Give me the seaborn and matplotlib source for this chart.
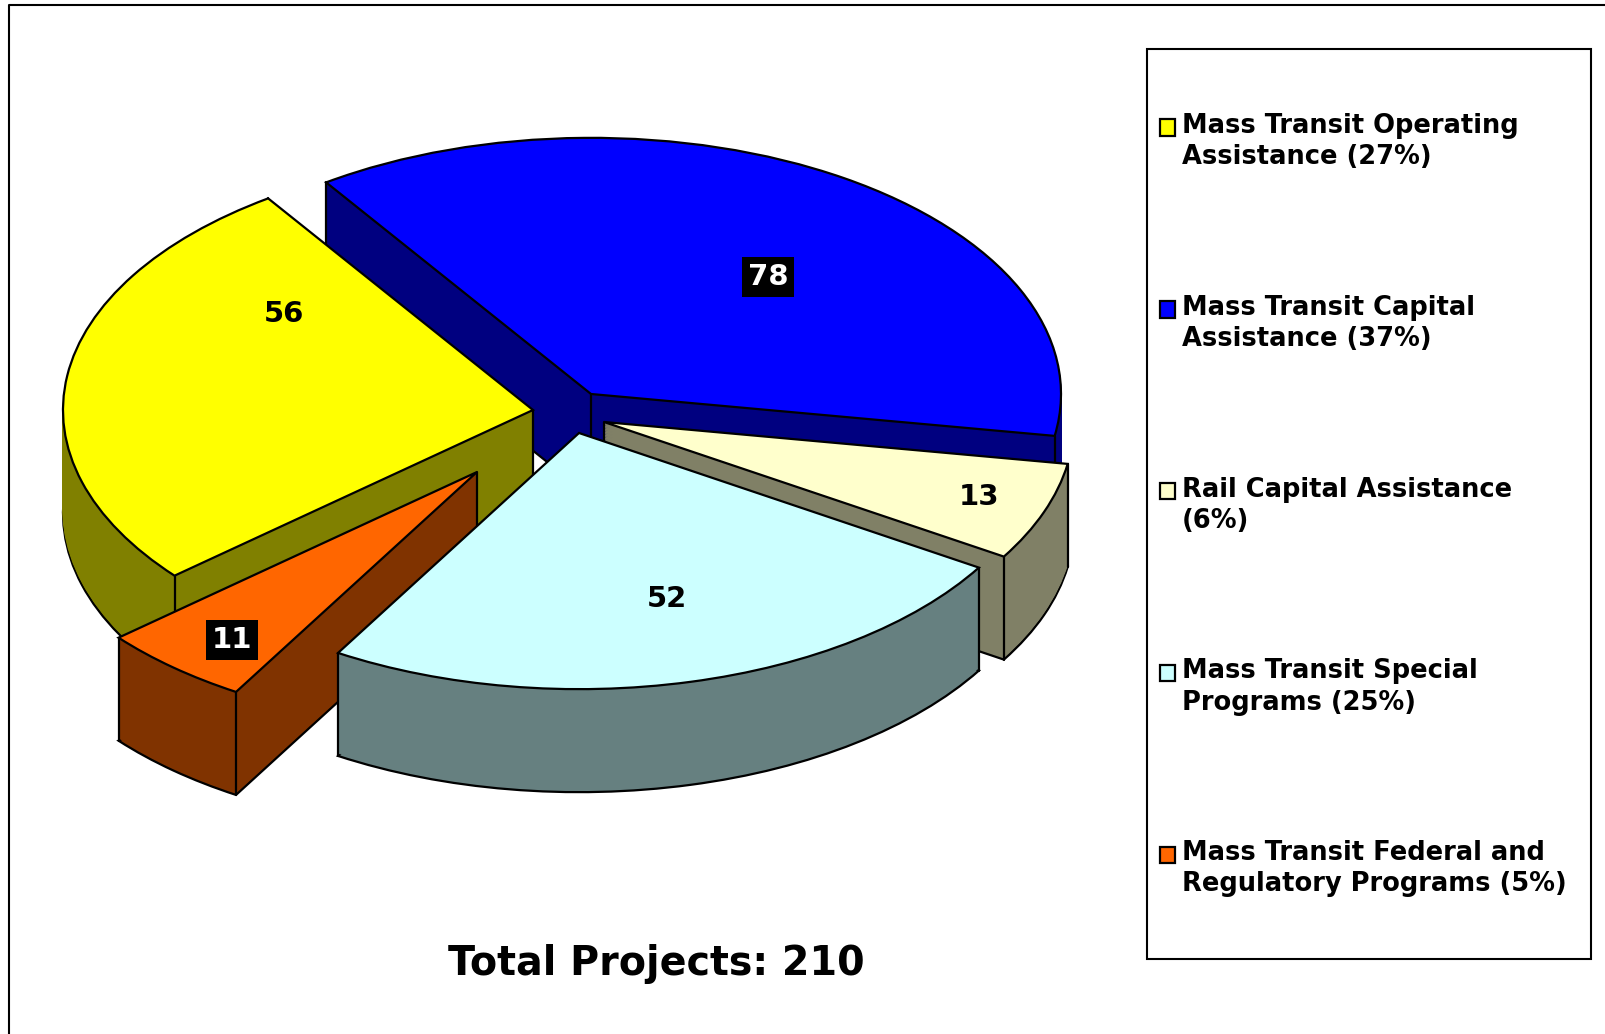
import numpy as np
import matplotlib
matplotlib.use('Agg')
import matplotlib.pyplot as plt
from matplotlib.legend_handler import HandlerPatch
from matplotlib.patches import Patch, Rectangle
import seaborn as sns

# chart data, in legend order (clockwise on the pie)
categories = [
    'Mass Transit Operating\nAssistance (27%)',
    'Mass Transit Capital\nAssistance (37%)',
    'Rail Capital Assistance\n(6%)',
    'Mass Transit Special\nPrograms (25%)',
    'Mass Transit Federal and\nRegulatory Programs (5%)',
]
projects = [56, 78, 13, 52, 11]
total_label = 'Total Projects: 210'

# styles
top_colors = ['#FFFF00', '#0000FF', '#FFFFCC', '#CCFFFF', '#FF6600']
side_colors = ['#808000', '#000080', '#808066', '#668080', '#803300']
label_white = [False, True, False, False, True]

# layout, all in reference pixels
W, H = 1606, 1034
SQUASH = 0.545
RADIUS = 470
DEPTH = 103
LW = 1.6
START_ANGLE = 220.3  # yellow slice starts here, going clockwise
apex_px = [(533, 410), (591, 394), (604, 422), (579, 433), (477, 472)]
label_px = [(284, 314), (768, 277), (979, 497), (667, 599), (232, 640)]
draw_order = [1, 0, 2, 4, 3]  # back to front

sns.set_theme(style='white')
plt.rcParams['font.family'] = ['DejaVu Sans']

fig = plt.figure(figsize=(W / 100, H / 100), dpi=100)
ax = fig.add_axes([0, 0, 1, 1])


def ypx(y):
    return -y / SQUASH


total = sum(projects)
fracs = [v / total for v in projects]
# yellow ends up going from 220 clockwise to 124, blue on to -10 and so on
starts = START_ANGLE - 360 * np.concatenate([[0], np.cumsum(fracs)[:-1]])


def wedge(i, dy, face, edge, lw, z):
    cx, cy = apex_px[i]
    ax.pie([fracs[i]], startangle=starts[i], counterclock=False, normalize=False,
           radius=RADIUS, center=(cx, ypx(cy + dy)), colors=[face],
           wedgeprops=dict(edgecolor=edge, linewidth=lw, zorder=z), frame=True)


for n, i in enumerate(draw_order):
    z = 10 + n * 10
    wedge(i, DEPTH, side_colors[i], 'black', LW, z)
    for dy in np.arange(DEPTH - 3, 0, -1.5):
        wedge(i, dy, side_colors[i], side_colors[i], 0.8, z + 1)
    # vertical corner edges of the slab
    cx, cy = apex_px[i]
    a1, a2 = np.radians(starts[i]), np.radians(starts[i] - 360 * fracs[i])
    xs = [cx, cx + RADIUS * np.cos(a1), cx + RADIUS * np.cos(a2)]
    ys = [cy, cy - RADIUS * np.sin(a1) * SQUASH, cy - RADIUS * np.sin(a2) * SQUASH]
    for x, y in zip(xs, ys):
        ax.plot([x, x], [ypx(y), ypx(y + DEPTH)], color='black', lw=LW, zorder=z + 2)
    wedge(i, 0, top_colors[i], 'black', LW, z + 3)

for i, (x, y) in enumerate(label_px):
    white = label_white[i]
    ax.text(x, ypx(y), str(projects[i]), ha='center', va='center', fontsize=21,
            fontweight='bold', color='white' if white else 'black', zorder=100,
            bbox=dict(facecolor='black', edgecolor='none', pad=4) if white else None)

ax.text(656, ypx(964), total_label, ha='center', va='center', fontsize=28.5,
        fontweight='bold', color='black', zorder=100)

# outer frame, cut by the picture on the right and bottom
ax.plot([9, 9, W], [ypx(H), ypx(5), ypx(5)], color='black', lw=1.5, zorder=100)

# legend box
ax.add_patch(Rectangle((1147, ypx(959)), 444, ypx(49) - ypx(959), facecolor='white',
                       edgecolor='black', lw=1.5, zorder=100))


def first_line_marker(legend, orig_handle, xdescent, ydescent, width, height, fontsize):
    # legend centres the marker on both lines, the reference has it on the first
    return Rectangle((-xdescent, -ydescent + 0.58 * fontsize), width, height)


handles = [Patch(facecolor=c, edgecolor='black', linewidth=LW) for c in top_colors]
leg = ax.legend(handles, categories, loc='upper left', frameon=False,
                bbox_to_anchor=(1160 / W, 1 - 113 / H),
                prop=dict(weight='bold', size=18.5), labelcolor='black',
                handlelength=0.6, handleheight=0.6, handletextpad=0.24,
                labelspacing=4.85, borderpad=0, borderaxespad=0, alignment='left',
                handler_map={Patch: HandlerPatch(patch_func=first_line_marker)})
leg.set_zorder(101)
for t in leg.get_texts():
    t.set_linespacing(1.26)

ax.set_aspect('auto')
ax.set_xlim(0, W)
ax.set_ylim(ypx(H), 0)
ax.axis('off')

fig.savefig('out.png', dpi=100, facecolor='white')
